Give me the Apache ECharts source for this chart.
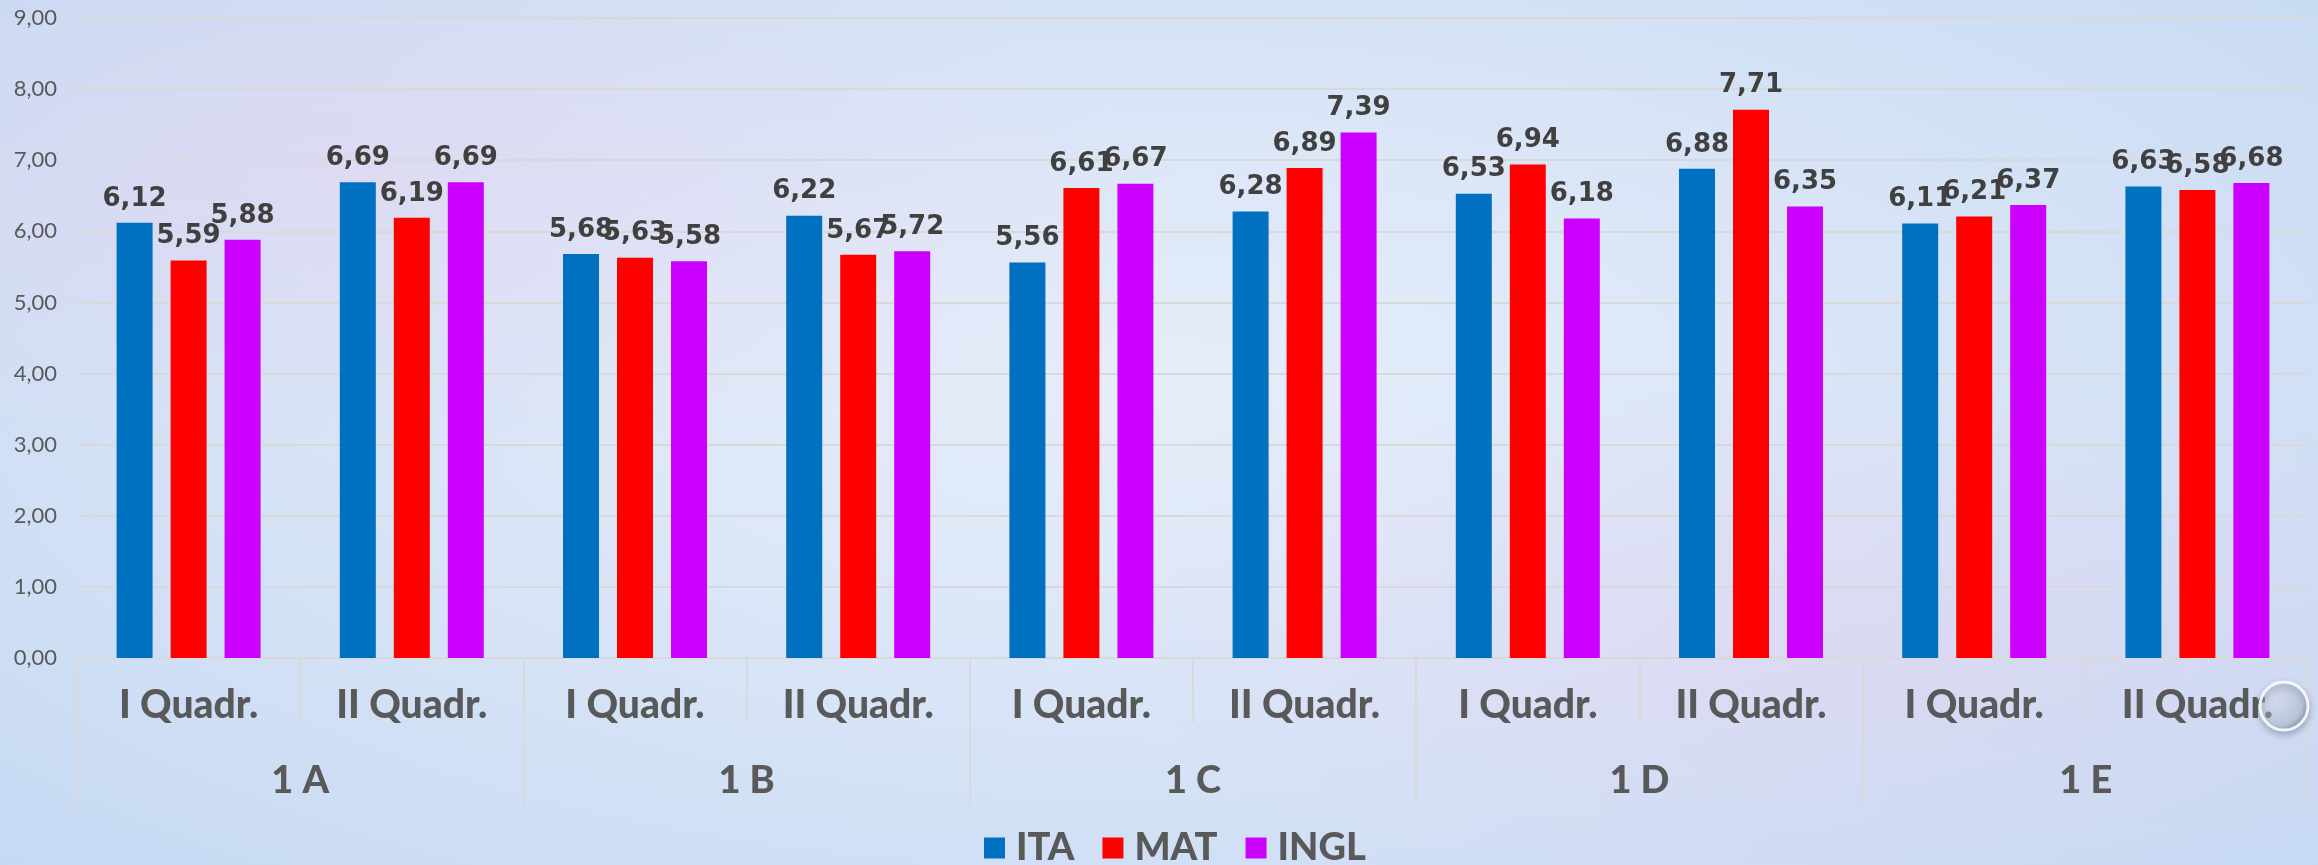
<!DOCTYPE html>
<html>
<head>
<meta charset="utf-8">
<script src="https://cdn.jsdelivr.net/npm/echarts@6/dist/echarts.min.js"></script>
<style>
html,body{margin:0;padding:0;width:2318px;height:865px;overflow:hidden;}
body{
  background:
    radial-gradient(ellipse at 15% 20%, rgba(235,205,235,0.35), rgba(235,205,235,0) 30%),
    radial-gradient(ellipse at 80% 75%, rgba(230,200,235,0.35), rgba(230,200,235,0) 30%),
    radial-gradient(ellipse at 50% 45%, #e6edf9 0%, #d9e5f7 45%, #c6d9f3 100%);
}
#chart{width:2318px;height:865px;}
</style>
</head>
<body>
<div id="chart"></div>
<script>
var subCategories = ['I Quadr.','II Quadr.','I Quadr.','II Quadr.','I Quadr.','II Quadr.','I Quadr.','II Quadr.','I Quadr.','II Quadr.'];
var classes = ['1 A','1 B','1 C','1 D','1 E'];
var seriesNames = ['ITA','MAT','INGL'];
var ita  = [6.12, 6.69, 5.68, 6.22, 5.56, 6.28, 6.53, 6.88, 6.11, 6.63];
var mat  = [5.59, 6.19, 5.63, 5.67, 6.61, 6.89, 6.94, 7.71, 6.21, 6.58];
var ingl = [5.88, 6.69, 5.58, 5.72, 6.67, 7.39, 6.18, 6.35, 6.37, 6.68];
var yTicks = [0,1,2,3,4,5,6,7,8,9];

var colors = ['#0070C0','#FF0000','#CC00FF'];
var FONT = 'Lato, "DejaVu Sans", sans-serif';
var LBLFONT = '"DejaVu Sans", sans-serif';
function fmt(v){ return Number(v).toFixed(2).replace('.', ','); }

var chart = echarts.init(document.getElementById('chart'), null, {renderer:'canvas'});
var dataSets = [ita, mat, ingl];
var series = seriesNames.map(function(n,i){
  return {
    name:n, type:'bar', xAxisIndex:0, yAxisIndex:0,
    data:dataSets[i], barWidth:36, barGap:'50%',
    itemStyle:{color:colors[i]},
    label:{show:true, position:'top', distance:11, formatter:function(p){return fmt(p.value);},
      fontFamily:LBLFONT, fontWeight:'bold', fontSize:26, color:'#404040'}
  };
});
chart.setOption({
  animation:false,
  color:colors,
  grid:{left:77, right:9, top:18, bottom:207, containLabel:false},
  legend:{
    data:seriesNames, top:824, left:979, icon:'rect', itemWidth:21, itemHeight:21, itemGap:28,
    textStyle:{fontFamily:FONT, fontWeight:900, fontSize:38, color:'#595959', padding:[0,0,0,6]}
  },
  xAxis:[{
    type:'category', data:subCategories, position:'bottom', offset:0,
    axisLine:{show:true, lineStyle:{color:'#d9d9d9', width:2}},
    axisTick:{show:true, length:64, interval:0, lineStyle:{color:'#d9d9d9', width:2}},
    axisLabel:{interval:0, margin:28, fontFamily:FONT, fontWeight:900, fontSize:39, color:'#595959'}
  },{
    type:'category', data:classes, position:'bottom', offset:0, gridIndex:0,
    axisLine:{show:false},
    axisTick:{show:true, length:147, interval:0, lineStyle:{color:'#d9d9d9', width:2}},
    axisLabel:{interval:0, margin:104, fontFamily:FONT, fontWeight:900, fontSize:38, color:'#595959'}
  }],
  yAxis:{
    type:'value', min:yTicks[0], max:yTicks[yTicks.length-1], interval:1,
    axisLine:{show:false}, axisTick:{show:false},
    axisLabel:{margin:20, formatter:fmt, fontFamily:FONT, fontSize:22, color:'#595959'},
    splitLine:{show:true, lineStyle:{color:'#d9d9d9', width:2}}
  },
  graphic:[{
    type:'circle', shape:{cx:2284, cy:706, r:24}, z:100,
    style:{
      fill:{type:'radial', x:0.35, y:0.35, r:0.7, colorStops:[
        {offset:0, color:'rgba(255,255,255,0.2)'},
        {offset:0.75, color:'rgba(190,200,215,0.4)'},
        {offset:1, color:'rgba(110,120,140,0.65)'}]},
      stroke:'rgba(245,248,252,0.95)', lineWidth:3,
      shadowBlur:6, shadowColor:'rgba(80,90,110,0.5)', shadowOffsetY:3
    }
  }],
  series:series
});
</script>
</body>
</html>
